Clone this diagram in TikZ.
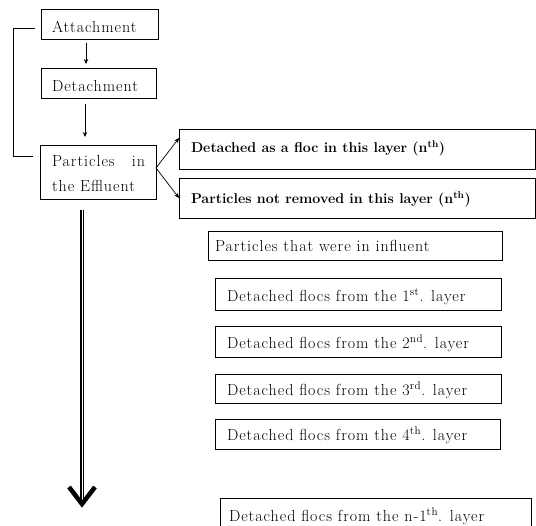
\documentclass[tikz,border=0pt]{standalone}
\usepackage{fontspec}
\setmainfont{Latin Modern Roman}
\newfontfamily\wideface{Latin Modern Roman}[LetterSpace=6]
\usetikzlibrary{arrows.meta}
\newcommand{\bt}[3]{\makebox[#1pt][l]{\hspace*{#2pt}#3}}
\begin{document}
\begin{tikzpicture}[x=1pt,y=-1pt,
  bx/.style={draw, line width=0.8pt, inner sep=0pt, outer sep=0pt, anchor=north west, font=\wideface\fontsize{16}{19}\selectfont},
  bxb/.style={bx, font=\rmfamily\fontsize{14.2}{17}\selectfont\bfseries},
  ar/.style={-{Stealth[length=5pt,width=4.5pt]}, line width=0.7pt},
  thin/.style={line width=0.7pt}]
\useasboundingbox (0,0) rectangle (536,526);
\node[bx, text height=24pt, text depth=6pt] (att) at (41,9) {\bt{117}{11}{Attachment}};
\node[bx, text height=24pt, text depth=6pt] (det) at (41,68) {\bt{115}{11}{Detachment}};
\node[bx, text height=22pt, text depth=32pt] (par) at (40,145) {\bt{116}{12}{\parbox[t]{93pt}{\baselineskip=25pt Particles\hfill in\\the Effluent}}};
\node[bxb, text height=24pt, text depth=16pt] (floc) at (179,129) {\bt{356}{12}{Detached as a floc in this layer (n\textsuperscript{th})}};
\node[bxb, text height=26pt, text depth=14pt] (notrem) at (179,178) {\bt{356}{12}{Particles not removed in this layer (n\textsuperscript{th})}};
\node[bx, text height=21pt, text depth=8pt] (infl) at (208,231) {\bt{294}{7}{Particles that were in influent}};
\node[bx, text height=24pt, text depth=8pt] (l1) at (215,278) {\bt{286}{12}{Detached flocs from the 1\textsuperscript{st}. layer}};
\node[bx, text height=23pt, text depth=8pt] (l2) at (215,326) {\bt{286}{12}{Detached flocs from the 2\textsuperscript{nd}. layer}};
\node[bx, text height=22pt, text depth=7pt] (l3) at (215,374) {\bt{286}{12}{Detached flocs from the 3\textsuperscript{rd}. layer}};
\node[bx, text height=22pt, text depth=8pt] (l4) at (215,419) {\bt{285}{12}{Detached flocs from the 4\textsuperscript{th}. layer}};
\node[bx, text height=24pt, text depth=18pt] (ln) at (220,498) {\bt{311}{9}{Detached flocs from the n-1\textsuperscript{th}. layer}};
% small arrows
\draw[ar] ([xshift=-13.5pt,yshift=-4pt]att.south) -- ([xshift=-12.5pt,yshift=4pt]det.north);
\draw[ar] ([xshift=-13.5pt,yshift=-6pt]det.south) -- ([xshift=-13pt,yshift=8pt]par.north);
% fork
\draw[ar] ([yshift=4pt]par.east) -- ([yshift=11pt]floc.west);
\draw[ar] ([yshift=4pt]par.east) -- (notrem.west);
% feedback line
\coordinate (fb) at (13,156);
\draw[thin] ([xshift=-6pt,yshift=-4pt]att.west) -| (fb) -- ([xshift=-7pt,yshift=16pt]par.west);
% big arrow
\coordinate (tip) at (82,507);
\draw[line width=2pt, double distance=0.8pt] ([xshift=-16pt,yshift=-11pt]par.south) -- ([yshift=5pt]tip);
\draw[line width=4.5pt, line join=miter] ([shift={(-13,-20)}]tip) -- ([yshift=3pt]tip) -- ([shift={(13,-20)}]tip);
\end{tikzpicture}
\end{document}
